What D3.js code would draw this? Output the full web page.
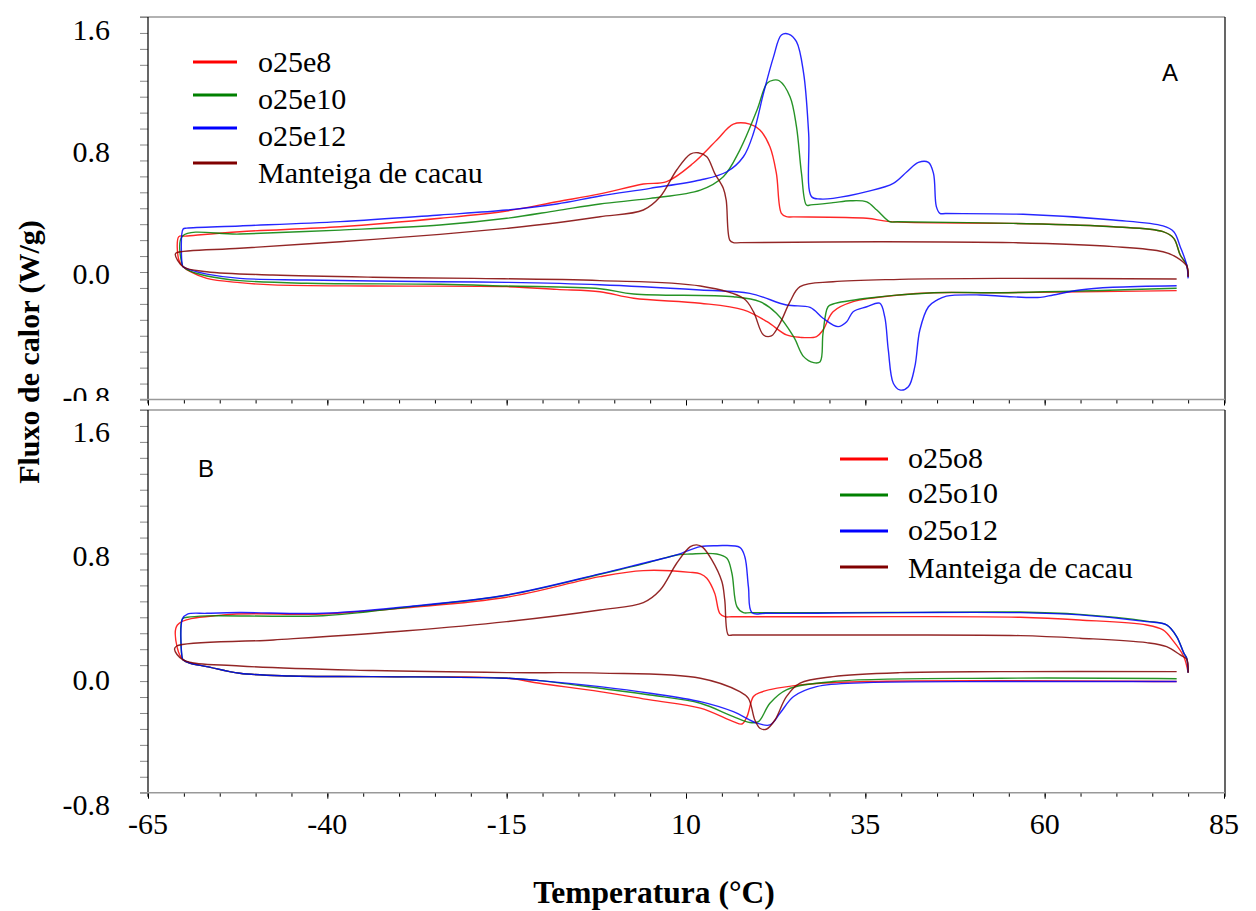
<!DOCTYPE html>
<html>
<head>
<meta charset="utf-8">
<title>DSC</title>
<script src="https://cdn.jsdelivr.net/npm/d3@7"></script>
<style>
  body { margin: 0; background: #fff; }
  text { font-family: "Liberation Serif", "Times New Roman", serif; }
</style>
</head>
<body>
<script>
// curves: [temperatura, fluxo], traced around the loop (cooling branch right->left, then heating left->right)
var o25e8 = [[80,-0.03],[79.8,0.044],[78.9,0.107],[78,0.211],[76.5,0.253],[69.6,0.284],[55.6,0.305],[38.4,0.316],[35.2,0.337],[25,0.346],[24.0,0.347],[23.3,0.368],[22.6,0.619],[21.7,0.786],[20.3,0.891],[18.9,0.928],[16.6,0.928],[14.3,0.828],[11.0,0.682],[7.3,0.567],[4.05,0.552],[-2,0.49],[-8,0.441],[-15,0.383],[-24.3,0.337],[-38.2,0.284],[-52.2,0.253],[-59.8,0.225],[-60.7,0.222],[-60.7,0.075],[-60.1,0.033],
  [-59.1,0.002],[-56.8,-0.04],[-52.2,-0.067],[-47.6,-0.081],[-33.6,-0.088],[-15,-0.092],[-8,-0.109],[-2,-0.124],[2.7,-0.165],[12,-0.196],[18,-0.238],[21.3,-0.312],[24,-0.395],[25.9,-0.41],[28.2,-0.405],[29.1,-0.364],[30.5,-0.249],[33.3,-0.186],[39.8,-0.144],[44.5,-0.13],[53.8,-0.13],[78.4,-0.117]];
var o25e10 = [[80,-0.03],[79.8,0.044],[78.9,0.107],[78,0.211],[76.5,0.253],[69.6,0.284],[55.6,0.305],[39.5,0.315],[38.4,0.316],[36.6,0.389],[35.2,0.44],[32.9,0.447],[30.5,0.435],[27.4,0.421],[26.8,0.42],[26.1,0.619],[25.4,0.912],[24.5,1.1],[23.0,1.2],[22.2,1.204],[21.3,1.184],[19.9,1.016],[17.5,0.765],[15.2,0.598],[12,0.514],[5,0.462],[-2,0.427],[-8,0.385],[-15,0.337],[-24.3,0.295],[-38.2,0.263],[-52.2,0.238],[-60.2,0.225],[-60.2,0.04],[-60.1,0.033],
  [-59.1,0.005],[-56.8,-0.025],[-52.2,-0.054],[-42.9,-0.071],[-24.3,-0.077],[-15,-0.088],[-2,-0.105],[2.7,-0.138],[16.6,-0.155],[20.3,-0.186],[22.6,-0.259],[25,-0.406],[26.4,-0.531],[27.8,-0.569],[28.7,-0.563],[29.1,-0.385],[29.8,-0.218],[30.5,-0.201],[35.2,-0.165],[44.5,-0.13],[53.8,-0.13],[78.4,-0.102]];
var o25e12 = [[80,-0.04],[79.8,0.044],[78.9,0.159],[78,0.253],[76.5,0.289],[69.6,0.326],[57,0.362],[46.2,0.367],[45.4,0.368],[44.9,0.41],[44.5,0.619],[43.8,0.688],[42.4,0.688],[40.8,0.629],[38.9,0.556],[35.2,0.504],[30.5,0.462],[28.7,0.458],[27.5,0.472],[27.1,0.87],[26.4,1.246],[25.4,1.445],[24.3,1.493],[23.3,1.487],[22.2,1.35],[20.8,1.121],[19.4,0.87],[18.0,0.723],[15.7,0.629],[12,0.577],[5,0.525],[-2,0.477],[-8,0.427],[-15,0.389],[-24.3,0.358],[-38.2,0.316],[-52.2,0.289],[-59.6,0.275],[-60.1,0.27],[-60.2,0.04],[-60.1,0.033],
  [-59.1,0.013],[-56.8,-0.013],[-52.2,-0.04],[-42.9,-0.05],[-24.3,-0.061],[-15,-0.065],[-2,-0.08],[12,-0.113],[18.9,-0.134],[24,-0.207],[27.3,-0.222],[29.1,-0.29],[31.2,-0.343],[32.4,-0.312],[33.3,-0.249],[35.2,-0.218],[37,-0.196],[37.7,-0.28],[38.2,-0.489],[38.9,-0.698],[39.8,-0.74],[41,-0.72],[41.9,-0.594],[42.6,-0.364],[43.8,-0.218],[45,-0.176],[46.3,-0.151],[51,-0.144],[54.7,-0.154],[59.4,-0.159],[61.2,-0.144],[64.9,-0.113],[69.5,-0.096],[78.4,-0.086]];
var manteigaA = [[80,-0.03],[79.8,0.038],[78.4,0.092],[76.5,0.127],[69.6,0.159],[55.6,0.184],[37.1,0.19],[17.6,0.184],[16.6,0.184],[16.1,0.2],[15.6,0.452],[15.2,0.525],[14.0,0.619],[12.9,0.723],[11.7,0.748],[10.6,0.74],[8.7,0.64],[6.4,0.472],[4.05,0.389],[-2,0.347],[-8,0.309],[-15,0.274],[-24.3,0.236],[-38.2,0.19],[-52.2,0.149],[-61,0.121],[-61.2,0.11],[-60.1,0.033],
  [-56.8,0.002],[-47.6,-0.019],[-33.6,-0.033],[-19.6,-0.04],[-2,-0.054],[12,-0.088],[18,-0.165],[19.4,-0.249],[20.8,-0.395],[21.9,-0.401],[23.1,-0.322],[24.5,-0.186],[25.9,-0.092],[30.5,-0.061],[39.8,-0.046],[53.8,-0.04],[78.4,-0.044]];

var o25o8 = [[80,-0.047],[79.4,0.053],[78,0.147],[76.5,0.221],[74.2,0.252],[64.9,0.283],[56.6,0.3],[38.4,0.304],[16.4,0.303],[15.4,0.304],[14.7,0.325],[14,0.451],[12.9,0.545],[12,0.572],[10.6,0.582],[4.05,0.593],[-2,0.555],[-15,0.426],[-28.9,0.36],[-40.6,0.32],[-54.5,0.315],[-60.9,0.252],[-60.9,0.106],[-60.1,0.033],
  [-59.1,0.012],[-56.8,-0.009],[-52.2,-0.051],[-45.2,-0.068],[-33.6,-0.072],[-15,-0.082],[-10.4,-0.114],[-2,-0.166],[5,-0.218],[12,-0.27],[16.6,-0.354],[17.8,-0.369],[18.5,-0.323],[19.4,-0.197],[20.3,-0.172],[25.9,-0.124],[35.2,-0.103],[78.4,-0.103]];
var o25o10 = [[80,-0.047],[79.8,0.043],[79.4,0.075],[78.4,0.179],[77,0.252],[74.2,0.276],[64.9,0.318],[56.6,0.333],[38.4,0.33],[19,0.329],[18,0.329],[17.1,0.367],[16.4,0.576],[15.7,0.67],[14.3,0.697],[10.6,0.697],[8.7,0.691],[4.05,0.635],[-2,0.57],[-15,0.438],[-28.9,0.363],[-40.6,0.31],[-56.8,0.309],[-59.5,0.3],[-60.2,0.29],[-60.2,0.04],[-60.1,0.033],
  [-59.1,0.012],[-56.8,-0.009],[-52.2,-0.051],[-45.2,-0.068],[-33.6,-0.072],[-15,-0.082],[-10.4,-0.097],[-2,-0.145],[5,-0.187],[12,-0.239],[16.6,-0.323],[18.9,-0.36],[20.1,-0.354],[21.7,-0.239],[24,-0.155],[30.5,-0.103],[53.8,-0.082],[78.4,-0.085]];
var o25o12 = [[80,-0.047],[79.8,0.043],[79.4,0.075],[78.4,0.179],[77,0.252],[74.2,0.273],[64.9,0.315],[56.6,0.329],[38.4,0.329],[21.2,0.325],[19.2,0.329],[18.7,0.492],[18.2,0.68],[17.5,0.739],[14.3,0.749],[12,0.743],[8.7,0.691],[4.05,0.639],[-2,0.572],[-15,0.44],[-28.9,0.367],[-40.6,0.325],[-52.2,0.33],[-56.8,0.325],[-59.5,0.32],[-60.2,0.29],[-60.2,0.04],[-60.1,0.033],
  [-59.1,0.012],[-56.8,-0.009],[-52.2,-0.051],[-45.2,-0.068],[-33.6,-0.072],[-15,-0.082],[-10.4,-0.097],[-2,-0.135],[5,-0.176],[12,-0.229],[16.6,-0.292],[19.9,-0.364],[21.7,-0.375],[23.1,-0.302],[25,-0.197],[28.2,-0.135],[35.2,-0.11],[53.8,-0.103],[78.4,-0.103]];
var manteigaB = [[80,-0.047],[79.8,0.037],[78.9,0.064],[77,0.116],[74.2,0.141],[64.9,0.169],[56.6,0.185],[38.4,0.189],[17.4,0.189],[16.5,0.189],[15.9,0.189],[15.4,0.409],[15,0.524],[13.6,0.66],[12.3,0.74],[11.5,0.754],[10.6,0.743],[8.7,0.639],[6.4,0.471],[4.05,0.392],[-2,0.346],[-15,0.273],[-28.9,0.216],[-47.5,0.158],[-61,0.12],[-61.3,0.1],[-60.1,0.033],
  [-52.2,-0.005],[-33.6,-0.034],[-15,-0.047],[-2,-0.05],[12,-0.082],[17.5,-0.166],[18.7,-0.208],[19.6,-0.344],[20.3,-0.396],[21.2,-0.402],[22.4,-0.344],[24,-0.197],[25.9,-0.113],[30.5,-0.072],[39.8,-0.047],[53.8,-0.041],[78.4,-0.041]];

var namesA = ["o25e8", "o25e10", "o25e12", "Manteiga de cacau"];
var namesB = ["o25o8", "o25o10", "o25o12", "Manteiga de cacau"];
var colors = ["#ff0000", "#008000", "#0000ff", "#800000"];
var yTicks = [-0.8, 0.0, 0.8, 1.6];
var xTicks = [-65, -40, -15, 10, 35, 60, 85];

var serif = "'Liberation Serif', 'Times New Roman', serif";
var svg = d3.select("body").append("svg").attr("width", 1256).attr("height", 911);

var x = d3.scaleLinear().domain([-65, 85]).range([148, 1224]);
var yA = d3.scaleLinear().domain([-0.8, 1.6]).range([399.5, 17]);
var yB = d3.scaleLinear().domain([-0.8, 1.6]).range([792.7, 410]);
// tick labels sit on a slightly different spacing than the ticks in the original
var labA = d3.scaleLinear().domain([-0.8, 1.6]).range([396, 29.3]);
var labB = d3.scaleLinear().domain([-0.8, 1.6]).range([804, 431]);

svg.append("clipPath").attr("id", "clipLabA")
  .append("rect").attr("x", 0).attr("y", 0).attr("width", 148).attr("height", 401);

function panel(y, lab, series, names, leg, tag, showX) {
  var g = svg.append("g");
  var top = y(1.6), bot = y(-0.8);

  // frame
  g.append("line").attr("x1", 140).attr("x2", 1225).attr("y1", top).attr("y2", top)
    .attr("stroke", "#999").attr("stroke-width", 1.5);
  g.append("line").attr("x1", 1225).attr("x2", 1225).attr("y1", top).attr("y2", bot + 4)
    .attr("stroke", "#000").attr("stroke-width", 1.2);

  // y axis, minor ticks every 0.1
  var yAxis = d3.axisLeft(y).tickValues(d3.range(-8, 17).map(function (i) { return i / 10; }))
    .tickSize(8).tickFormat("");
  var ya = g.append("g").attr("transform", "translate(148,0)").call(yAxis);
  ya.select(".domain").remove();
  ya.selectAll(".tick line").attr("stroke", "#888");
  g.append("line").attr("x1", 148).attr("x2", 148).attr("y1", top).attr("y2", bot + 4)
    .attr("stroke", "#000").attr("stroke-width", 1.2);

  var lg = g.append("g");
  if (tag === "A") lg.attr("clip-path", "url(#clipLabA)");
  lg.selectAll("text").data(yTicks).enter().append("text")
    .attr("x", 110).attr("y", function (d) { return lab(d); })
    .attr("dy", "0.35em").attr("text-anchor", "end").attr("font-size", 30)
    .style("font-family", serif)
    .text(function (d) { return d.toFixed(1); });

  // x axis
  var xa = g.append("g").attr("transform", "translate(0," + bot + ")");
  xa.call(d3.axisBottom(x).tickValues(d3.range(-65, 86, 5)).tickSize(4).tickFormat(""));
  xa.append("g").call(d3.axisBottom(x).tickValues(xTicks).tickSize(6).tickFormat(""));
  xa.selectAll(".domain").remove();
  xa.selectAll(".tick line").attr("stroke", "#000");
  g.append("line").attr("x1", 140).attr("x2", 1225).attr("y1", bot).attr("y2", bot)
    .attr("stroke", "#999").attr("stroke-width", 1.5);
  if (showX) {
    g.selectAll(".xl").data(xTicks).enter().append("text")
      .attr("x", function (d) { return x(d); }).attr("y", 834)
      .attr("text-anchor", "middle").attr("font-size", 30)
      .style("font-family", serif)
      .text(function (d) { return d; });
  }

  // curves
  var line = d3.line().x(function (d) { return x(d[0]); }).y(function (d) { return y(d[1]); })
    .curve(d3.curveCatmullRom.alpha(0.5));
  g.selectAll(".curve").data(series).enter().append("path")
    .attr("d", line).attr("fill", "none")
    .attr("stroke", function (d, i) { return colors[i]; })
    .attr("stroke-width", 1.4).attr("stroke-opacity", 0.85);

  // legend
  names.forEach(function (n, i) {
    g.append("line").attr("x1", leg.x).attr("x2", leg.x + leg.w)
      .attr("y1", leg.ly[i]).attr("y2", leg.ly[i])
      .attr("stroke", colors[i]).attr("stroke-width", 3);
    g.append("text").attr("x", leg.tx).attr("y", leg.ty[i])
      .attr("font-size", 30).style("font-family", serif).text(n);
  });

  g.append("text").attr("x", tag === "A" ? 1170 : 206).attr("y", tag === "A" ? 81 : 477)
    .attr("text-anchor", "middle").attr("font-size", 24)
    .style("font-family", "'Liberation Sans', Arial, sans-serif").text(tag);
}

panel(yA, labA, [o25e8, o25e10, o25e12, manteigaA], namesA,
  { x: 193, w: 44, tx: 258, ly: [62, 95, 128, 163], ty: [72, 109, 146, 183] }, "A", false);
panel(yB, labB, [o25o8, o25o10, o25o12, manteigaB], namesB,
  { x: 840, w: 48, tx: 908, ly: [459, 495, 531, 567], ty: [468, 503, 540, 578] }, "B", true);

// axis titles
svg.append("text").attr("transform", "translate(28,352) rotate(-90)")
  .attr("text-anchor", "middle").attr("dy", "0.35em")
  .attr("font-size", 30).attr("font-weight", "bold").style("font-family", serif)
  .text("Fluxo de calor (W/g)");
svg.append("text").attr("x", 654).attr("y", 903)
  .attr("text-anchor", "middle").attr("font-size", 31.5).attr("font-weight", "bold")
  .style("font-family", serif)
  .text("Temperatura (°C)");
</script>
</body>
</html>
